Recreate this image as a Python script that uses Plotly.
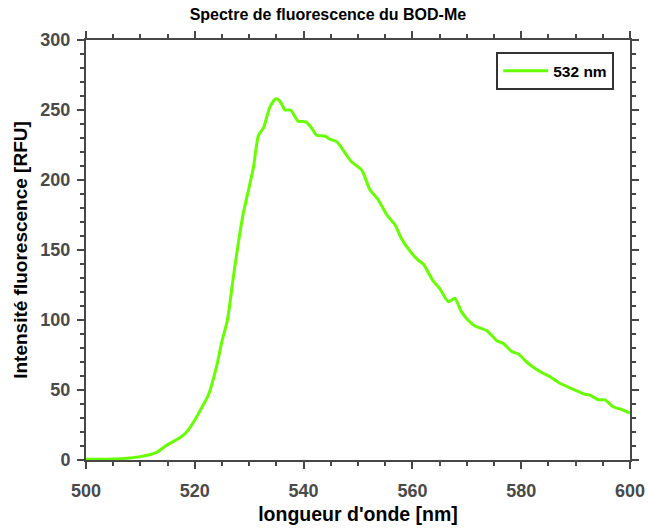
import plotly.graph_objects as go

wavelength = [500, 502, 505, 508, 510, 513, 514.8, 517.3, 518.5, 520, 521.5, 522.5, 524, 525, 526, 527.1,
              528, 528.9, 530, 530.8, 531.7, 532.6, 533.8, 534.9, 535.7, 536.6, 537.6, 539, 540.4,
              541.5, 542.4, 543.9, 544.9, 546.1, 547.5, 548.8, 550.7, 552.2, 553.7, 555.3, 556.8,
              558, 559.6, 561, 562, 563.8, 565, 566.6, 567.8, 569, 570.2, 571.5, 573.7, 575.5,
              576.7, 578.3, 579.5, 581, 582.5, 584, 585.3, 587.1, 589.6, 591.7, 592.6, 594.2,
              595.4, 596.9, 598.5, 600]
intensity = [0.5, 0.5, 0.7, 1.5, 2.4, 5.5, 10.5, 16, 20, 28.6, 39, 46.4, 66.7, 85, 100, 131,
             155, 176, 195, 209.5, 232, 237, 252, 258, 256, 250, 250, 242, 241.5,
             237, 232, 231.4, 229, 227.4, 220, 213, 207, 193, 186, 175, 168,
             158, 149, 143, 140, 128, 122.6, 113, 115.5, 106, 100, 95.7, 92.4, 85.2,
             83.3, 77.4, 75.7, 70, 65.5, 62, 59.5, 54.8, 50.5, 47, 46.4, 43,
             43, 38, 36, 33.5]

x_ticks = [500, 520, 540, 560, 580, 600]
y_ticks = [0, 50, 100, 150, 200, 250, 300]

FONT = "Liberation Sans"
AXC = "#474747"

fig = go.Figure()
fig.add_trace(go.Scatter(x=wavelength, y=intensity, mode="lines", name="532 nm",
                         line=dict(color="#66ff00", width=3, shape="spline", smoothing=0.6)))

axis_common = dict(
    showline=True, linecolor=AXC, linewidth=2, mirror="allticks",
    ticks="outside", ticklen=7, tickwidth=2, tickcolor=AXC,
    showgrid=False, zeroline=False, automargin=False,
    tickfont=dict(family=FONT, size=18, color="#4a4a4a", weight="bold"),
)

fig.update_xaxes(range=[500, 600], tickvals=x_ticks, ticklabelstandoff=6,
                 minor=dict(ticks="outside", dtick=5, ticklen=4, tickwidth=2, tickcolor=AXC),
                 title=dict(text="longueur d'onde [nm]",
                            font=dict(family=FONT, size=19.5, color="black", weight="bold"), standoff=8),
                 **axis_common)
fig.update_yaxes(range=[0, 300], tickvals=y_ticks, ticklabelstandoff=3,
                 minor=dict(ticks="outside", dtick=10, ticklen=4, tickwidth=2, tickcolor=AXC),
                 title=dict(text="Intensité fluorescence [RFU]",
                            font=dict(family=FONT, size=19, color="black", weight="bold"), standoff=8),
                 **axis_common)

fig.update_layout(
    width=648, height=531,
    margin=dict(l=86, r=18, t=40, b=71),
    plot_bgcolor="white", paper_bgcolor="white",
    title=dict(text="Spectre de fluorescence du BOD-Me", x=0.506,
               xanchor="center", y=0.972, yanchor="middle",
               font=dict(family=FONT, size=16, color="black", weight="bold")),
    showlegend=True,
    legend=dict(x=0.971, y=0.971, xanchor="right", yanchor="top",
                bordercolor="#333333", borderwidth=2, bgcolor="white", itemwidth=45,
                font=dict(family=FONT, size=15.5, color="black", weight="bold")),
)

fig.write_html("out.html", config={"displayModeBar": False},
               post_script="document.body.style.margin='0';document.body.style.padding='0';")
